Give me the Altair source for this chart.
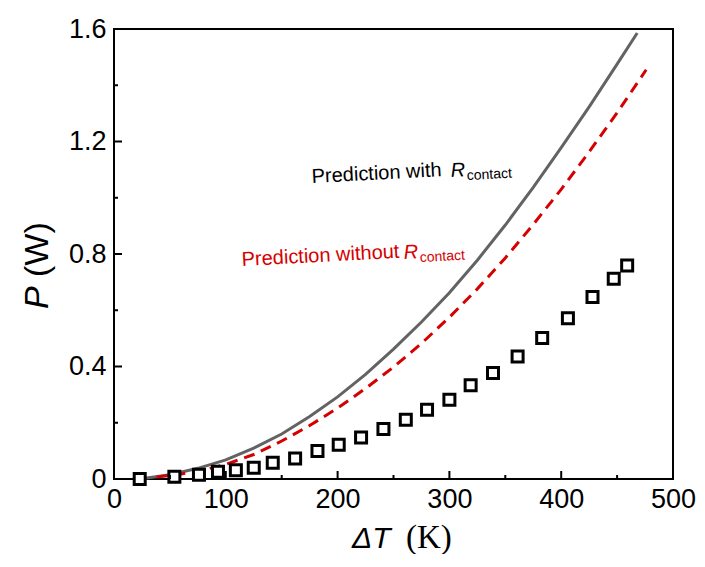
import altair as alt
import pandas as pd

# ---- data ----
dT_meas = [23, 54, 76, 93, 109, 125, 142, 162, 182, 201, 221, 241, 261, 280, 300,
           319, 339, 361, 383, 406, 428, 447, 459]
P_meas = [0.000, 0.008, 0.015, 0.026, 0.031, 0.040, 0.058, 0.073, 0.100, 0.122, 0.148,
          0.178, 0.211, 0.246, 0.282, 0.333, 0.377, 0.436, 0.501, 0.572, 0.647, 0.712, 0.759]

dT_with = [23, 50, 75, 100, 125, 150, 175, 200, 225, 250, 275, 300, 325, 350, 375,
           400, 425, 450, 468]
P_with = [0.000, 0.015, 0.038, 0.068, 0.110, 0.160, 0.222, 0.292, 0.372, 0.462, 0.558,
          0.662, 0.778, 0.903, 1.037, 1.178, 1.323, 1.475, 1.586]

dT_without = [38, 60, 80, 100, 125, 150, 175, 200, 225, 250, 275, 300, 325, 350, 375,
              400, 425, 450, 476]
P_without = [0.007, 0.018, 0.032, 0.052, 0.087, 0.135, 0.190, 0.252, 0.322, 0.398, 0.482,
             0.575, 0.676, 0.786, 0.905, 1.030, 1.163, 1.302, 1.455]

x_major = [0, 100, 200, 300, 400, 500]
x_minor = [50, 150, 250, 350, 450]
y_major = [0, 0.4, 0.8, 1.2, 1.6]
y_minor = [0.2, 0.6, 1.0, 1.4]

label_with = ["Prediction with ", "R", "contact"]
label_without = ["Prediction without ", "R", "contact"]
x_title = ["ΔT", "(K)"]
y_title = ["P", "(W)"]

# ---- styling ----
FONT = "Liberation Sans"
W, H = 559, 450
GRAY = "#636363"
RED = "#d60000"
LBL = 27

xscale = alt.Scale(domain=[0, 500], nice=False, zero=False)
yscale = alt.Scale(domain=[0, 1.6], nice=False, zero=False)
xaxis = alt.Axis(values=x_major, title=None, ticks=False, tickSize=0, domain=False,
                 grid=False, labelPadding=7, labelFontSize=LBL, labelFont=FONT,
                 labelColor="black", labelFlush=False, labelOverlap=False, labelBound=False)
yaxis = alt.Axis(values=y_major, title=None, ticks=False, tickSize=0, domain=False,
                 grid=False, labelPadding=8, labelFontSize=LBL, labelFont=FONT,
                 labelColor="black", labelFlush=False, labelOverlap=False, labelBound=False,
                 labelExpr="datum.value == 0 ? '0' : format(datum.value, '.1f')")

def X(f):
    return alt.X(f, type="quantitative", scale=xscale, axis=xaxis)

def Y(f):
    return alt.Y(f, type="quantitative", scale=yscale, axis=yaxis)

df_meas = pd.DataFrame({"dT": dT_meas, "P": P_meas})
df_with = pd.DataFrame({"dT": dT_with, "P": P_with})
df_without = pd.DataFrame({"dT": dT_without, "P": P_without})

line_with = alt.Chart(df_with).mark_line(color=GRAY, strokeWidth=3).encode(
    x=X("dT"), y=Y("P"), order="dT:Q")
line_without = alt.Chart(df_without).mark_line(
    color=RED, strokeWidth=3, strokeDash=[11, 7]).encode(
    x=X("dT"), y=Y("P"), order="dT:Q")
squares = alt.Chart(df_meas).mark_square(
    size=121, filled=True, fill="white", stroke="black", strokeWidth=3, opacity=1).encode(
    x=X("dT"), y=Y("P"))

# inward ticks
xt_major = alt.Chart(pd.DataFrame({"v": x_major})).mark_rule(color="black", strokeWidth=2).encode(
    x=X("v"), y=alt.value(H), y2=alt.value(H - 8))
xt_minor = alt.Chart(pd.DataFrame({"v": x_minor})).mark_rule(color="black", strokeWidth=2).encode(
    x=X("v"), y=alt.value(H), y2=alt.value(H - 4))
yt_major = alt.Chart(pd.DataFrame({"v": y_major})).mark_rule(color="black", strokeWidth=2).encode(
    y=Y("v"), x=alt.value(0), x2=alt.value(8))
yt_minor = alt.Chart(pd.DataFrame({"v": y_minor})).mark_rule(color="black", strokeWidth=2).encode(
    y=Y("v"), x=alt.value(0), x2=alt.value(4))


def txt(s, x, y, size, color="black", style="normal", font=FONT, angle=0, align="left"):
    return alt.Chart(pd.DataFrame({"t": [s]})).mark_text(
        font=font, fontSize=size, fontStyle=style, color=color, angle=angle,
        align=align, baseline="alphabetic").encode(
        text="t:N", x=alt.value(x), y=alt.value(y))

ang = 357
texts = [
    txt(label_with[0], 198, 154, 20, angle=ang),
    txt(label_with[1], 337, 148, 20, style="italic", angle=ang),
    txt(label_with[2], 353, 151, 14, angle=ang),
    txt(label_without[0], 128, 237, 20, color=RED, angle=ang),
    txt(label_without[1], 290, 230, 20, color=RED, style="italic", angle=ang),
    txt(label_without[2], 306, 233, 14, color=RED, angle=ang),
    txt(x_title[0], 238, 519, 30, style="italic"),
    txt(x_title[1], 292, 519, 33, font="Liberation Serif"),
    txt(y_title[0], -66, 280, 34, style="italic", angle=270),
    txt(y_title[1], -66, 248, 34, angle=270),
]

chart = alt.layer(
    line_with, line_without, squares,
    xt_major, xt_minor, yt_major, yt_minor,
    *texts
).properties(
    width=W, height=H,
    background="white",
    autosize=alt.AutoSizeParams(type="none"),
    padding={"left": 106, "top": 21, "right": 24, "bottom": 75},
).configure_view(
    stroke="black", strokeWidth=2
)

chart.save("out.html", embed_options={"renderer": "svg", "actions": False})
